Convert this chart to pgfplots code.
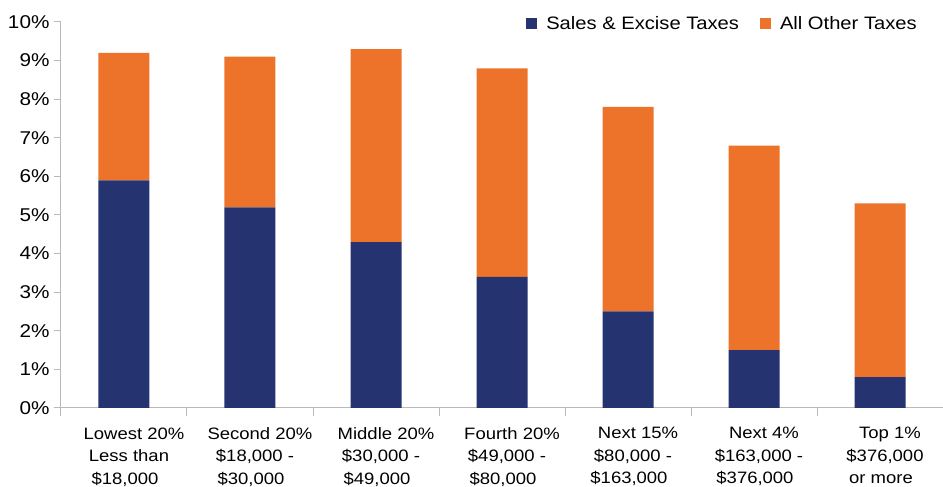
\documentclass[border=0pt]{standalone}
\usepackage{pgfplots}
\pgfplotsset{compat=1.18}
\usepackage{fontspec}
\setmainfont[FakeStretch=1.12]{Liberation Sans}
\definecolor{navy}{RGB}{37,51,112}
\definecolor{orng}{RGB}{236,115,41}
\definecolor{axgray}{RGB}{185,185,185}
\newcommand{\La}[1]{\hspace*{10pt}#1}
\newcommand{\Lc}[1]{#1\hspace*{8pt}}
\begin{document}
\begin{tikzpicture}
\path[use as bounding box] (-61pt,-79pt) rectangle (882pt,408pt);
\begin{axis}[
  at={(0pt,0pt)}, anchor=south west,
  scale only axis, width=882pt, height=386pt,
  ybar stacked, bar width=51pt,
  xmin=-0.5, xmax=6.5, ymin=0, ymax=10,
  axis x line=bottom, axis y line=left,
  axis line style={-, draw=axgray, line width=1pt},
  xtick={0,...,6},
  xticklabels={{\La{Lowest 20\%}\\Less than\\\Lc{\$18,000}}, {\La{Second 20\%}\\\$18,000 -\\\Lc{\$30,000}}, {\La{Middle 20\%}\\\$30,000 -\\\Lc{\$49,000}}, {\La{Fourth 20\%}\\\$49,000 -\\\Lc{\$80,000}}, {\La{Next 15\%}\\\$80,000 -\\\Lc{\$163,000}}, {\La{Next 4\%}\\\$163,000 -\\\Lc{\$376,000}}, {\La{Top 1\%}\\\$376,000\\\Lc{or more}}},
  xticklabel style={align=center, font=\fontsize{16.5}{22.5}\selectfont, yshift=-9pt, xshift=5pt},
  minor xtick={-0.5,0.5,...,6.5},
  major x tick style={draw=none},
  minor x tick style={draw=axgray, line width=1pt},
  minor tick length=8pt,
  ytick={0,1,...,10},
  yticklabel={\pgfmathprintnumber{\tick}\%},
  yticklabel style={font=\fontsize{18.5}{22}\selectfont, xshift=-1pt},
  /pgf/number format/assume math mode=true,
  major y tick style={draw=axgray, line width=1pt},
  major tick length=7pt, tick align=outside,
  legend style={draw=none, fill=none, at={(0.75,1.0)}, anchor=center, yshift=-2pt, legend columns=2,
    font=\fontsize{18}{22}\selectfont,
    /tikz/every odd column/.append style={column sep=7pt},
    /tikz/every even column/.append style={column sep=19pt}},
  legend image code/.code={\fill[#1] (0pt,-5.5pt) rectangle (11pt,5.5pt);},
  clip=false,
]
\addplot[fill=navy, draw=none] coordinates {(0,5.9) (1,5.2) (2,4.3) (3,3.4) (4,2.5) (5,1.5) (6,0.8)};
\addplot[fill=orng, draw=none] coordinates {(0,3.3) (1,3.9) (2,5.0) (3,5.4) (4,5.3) (5,5.3) (6,4.5)};
\legend{Sales \& Excise Taxes, All Other Taxes}
\end{axis}
\end{tikzpicture}
\end{document}
